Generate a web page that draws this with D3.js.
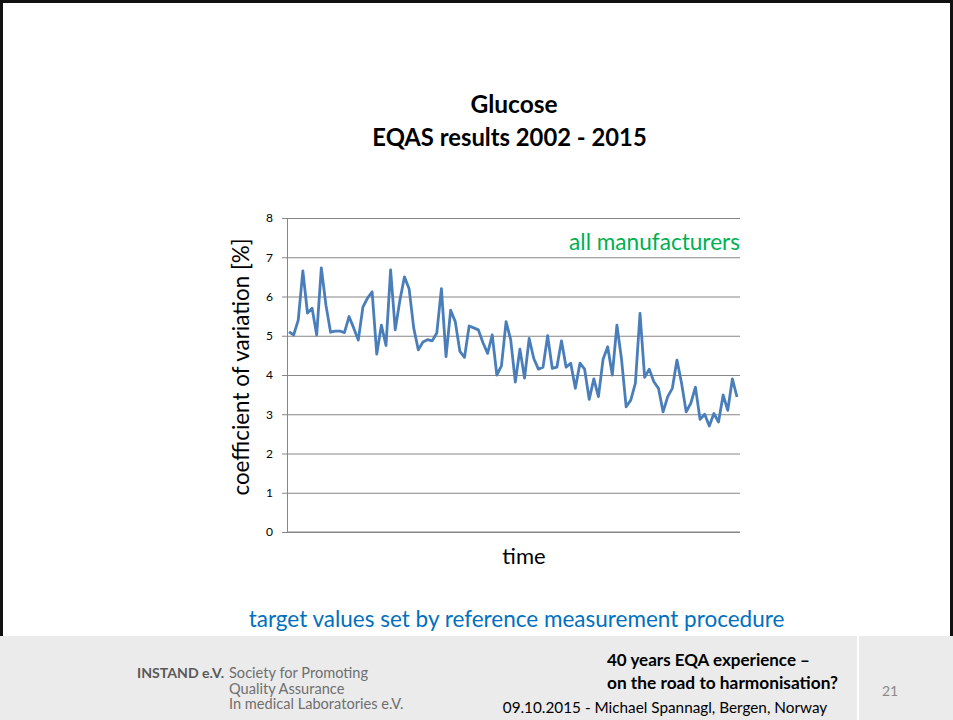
<!DOCTYPE html>
<html><head><meta charset="utf-8">
<script src="https://cdn.jsdelivr.net/npm/d3@7"></script>
<style>
html,body{margin:0;padding:0;background:#fff;}
svg{display:block;font-family:Lato,"Open Sans",sans-serif;}
</style></head>
<body>
<script>
const title = ["Glucose", "EQAS results 2002 - 2015"];
const yTicks = [0, 1, 2, 3, 4, 5, 6, 7, 8];
const yLabel = "coefficient of variation [%]";
const xLabel = "time";
const seriesName = "all manufacturers";
const cvValues = [
  5.10, 5.02, 5.40, 6.65, 5.58, 5.70, 5.02, 6.73, 5.78, 5.09,
  5.12, 5.12, 5.08, 5.49, 5.20, 4.89, 5.73, 5.96, 6.12, 4.53,
  5.27, 4.75, 6.68, 5.15, 5.90, 6.50, 6.20, 5.20, 4.64, 4.84,
  4.90, 4.87, 5.07, 6.20, 4.47, 5.65, 5.36, 4.60, 4.45, 5.25,
  5.20, 5.15, 4.82, 4.55, 5.02, 4.00, 4.23, 5.36, 4.90, 3.82,
  4.66, 3.92, 4.93, 4.42, 4.15, 4.20, 5.00, 4.17, 4.20, 4.87,
  4.20, 4.30, 3.66, 4.30, 4.15, 3.38, 3.90, 3.45, 4.40, 4.72,
  4.00, 5.27, 4.40, 3.19, 3.36, 3.79, 5.57, 3.94, 4.15, 3.83,
  3.66, 3.06, 3.45, 3.66, 4.38, 3.79, 3.06, 3.28, 3.69, 2.87,
  3.00, 2.70, 3.02, 2.80, 3.49, 3.10, 3.90, 3.44
];
const note = "target values set by reference measurement procedure";
const footerOrg = "INSTAND e.V.";
const footerOrgLines = ["Society for Promoting", "Quality Assurance", "In medical Laboratories e.V."];
const footerTitle = ["40 years EQA experience \u2013", "on the road to harmonisation?"];
const footerDate = "09.10.2015 - Michael Spannagl, Bergen, Norway";
const pageNum = "21";

(function () {
const W = 953, H = 720;
const svg = d3.select("body").append("svg").attr("width", W).attr("height", H);

// slide frame
svg.append("rect").attr("x", 0).attr("y", 0).attr("width", W).attr("height", H).attr("fill", "#fff");
svg.append("rect").attr("x", 0).attr("y", 636).attr("width", W).attr("height", 84).attr("fill", "#ebebeb");
svg.append("line").attr("x1", 858).attr("x2", 858).attr("y1", 636).attr("y2", 720).attr("stroke", "#fff").attr("stroke-width", 2);
svg.append("path").attr("d", "M1.5,636V1.5H951.5V636").attr("fill", "none").attr("stroke", "#111").attr("stroke-width", 3);

// title
svg.append("text").attr("x", 514).attr("y", 113).attr("text-anchor", "middle")
  .attr("font-weight", "bold").attr("font-size", 24.5).attr("fill", "#000").text(title[0]);
svg.append("text").attr("x", 509.5).attr("y", 146).attr("text-anchor", "middle")
  .attr("font-weight", "bold").attr("font-size", 23.8).attr("fill", "#000").text(title[1]);

// plot
const pL = 287, pR = 740, pT = 218, pB = 532;
const y = d3.scaleLinear().domain([0, 8]).range([pB, pT]);
const x = d3.scaleLinear().domain([0, cvValues.length - 1]).range([289, 737]);

const gy = svg.append("g").attr("transform", `translate(${pL},0)`)
  .call(d3.axisLeft(y).tickValues(yTicks).tickSize(5).tickPadding(9).tickFormat(d3.format("d")));
gy.select(".domain").attr("stroke", "#868686");
gy.selectAll(".tick line").attr("stroke", "#868686");
gy.selectAll(".tick text").attr("font-size", 12).attr("fill", "#000").attr("font-family", "Lato, sans-serif");

const grid = svg.append("g").attr("transform", `translate(${pL},0)`)
  .call(d3.axisLeft(y).tickValues(yTicks).tickSize(-(pR - pL)).tickFormat(""));
grid.select(".domain").remove();
grid.selectAll(".tick line").attr("stroke", "#868686").attr("stroke-width", 1);

svg.append("line").attr("x1", pL).attr("x2", pR).attr("y1", pB).attr("y2", pB).attr("stroke", "#868686");

svg.append("path").datum(cvValues)
  .attr("d", d3.line().x((d, i) => x(i)).y(d => y(d)))
  .attr("fill", "none").attr("stroke", "#4a7ebb").attr("stroke-width", 2.8).attr("stroke-linejoin", "round");

svg.append("text").attr("x", 740).attr("y", 250).attr("text-anchor", "end")
  .attr("font-size", 22.6).attr("fill", "#00b050").text(seriesName);

svg.append("text").attr("transform", "translate(249,367) rotate(-90)").attr("text-anchor", "middle")
  .attr("font-size", 22.4).attr("fill", "#000").text(yLabel);
svg.append("text").attr("x", 524).attr("y", 564).attr("text-anchor", "middle")
  .attr("font-size", 22).attr("fill", "#000").text(xLabel);

svg.append("text").attr("x", 516.5).attr("y", 627).attr("text-anchor", "middle")
  .attr("font-size", 22.5).attr("fill", "#0070c0").text(note);

// footer
svg.append("text").attr("x", 137).attr("y", 678).attr("font-size", 14.1).attr("font-weight", "bold").attr("fill", "#595959").text(footerOrg);
footerOrgLines.forEach((t, i) => {
  svg.append("text").attr("x", 229).attr("y", 678 + i * 15.5).attr("font-size", 14.6).attr("fill", "#6f6f6f").text(t);
});
svg.append("text").attr("x", 607).attr("y", 666).attr("font-size", 17).attr("font-weight", "bold").attr("fill", "#000").text(footerTitle[0]);
svg.append("text").attr("x", 607).attr("y", 689).attr("font-size", 17.3).attr("font-weight", "bold").attr("fill", "#000").text(footerTitle[1]);
svg.append("text").attr("x", 665).attr("y", 713).attr("text-anchor", "middle").attr("font-size", 15.3).attr("fill", "#000").text(footerDate);
svg.append("text").attr("x", 890).attr("y", 696).attr("text-anchor", "middle").attr("font-size", 14).attr("fill", "#8a8a8a").text(pageNum);
})();
</script>
</body></html>
